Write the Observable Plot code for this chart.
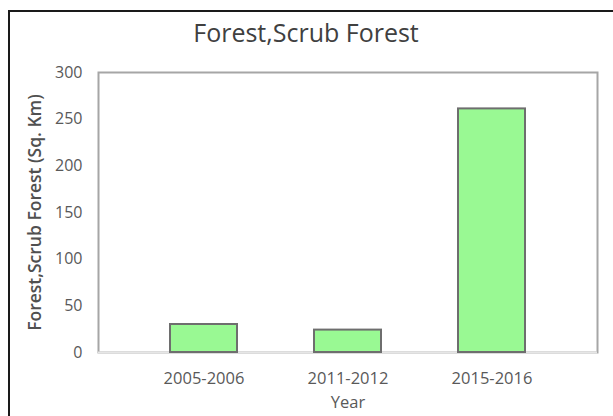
<!DOCTYPE html>
<html>
<head>
<meta charset="utf-8">
<script src="https://cdn.jsdelivr.net/npm/d3@7"></script>
<script src="https://cdn.jsdelivr.net/npm/@observablehq/plot@0.6"></script>
<style>
  html, body { margin: 0; padding: 0; background: #fff; }
  #wrap { position: relative; width: 613px; height: 416px; overflow: hidden; }
  #border { position: absolute; left: 8px; top: 10px; width: 700px; height: 500px;
            border-top: 2px solid #1a1a1a; border-left: 2px solid #1a1a1a; pointer-events: none; }
  #chart { position: absolute; left: 0; top: 0; }
</style>
</head>
<body>
<div id="wrap"><div id="chart"></div><div id="border"></div></div>
<script>
const years = ["2005-2006", "2011-2012", "2015-2016"];
const areas = [30, 24, 261];
const yTicks = [0, 50, 100, 150, 200, 250, 300];
const titleText = "Forest,Scrub Forest";
const yLabel = "Forest,Scrub Forest (Sq. Km)";
const xLabel = "Year";

const data = years.map((y, i) => ({year: y, value: areas[i]}));
const font = "'Open Sans', sans-serif";

const chart = Plot.plot({
  width: 613,
  height: 416,
  marginLeft: 98,
  marginRight: 16,
  marginTop: 72,
  marginBottom: 64,
  style: {fontFamily: font, background: "#fff", overflow: "visible"},
  x: {domain: years, paddingInner: 0.538, paddingOuter: 0.49, label: null, axis: null},
  y: {domain: [0, 300], ticks: yTicks, label: null, axis: null},
  marks: [
    Plot.frame({stroke: "#a6a6a6", strokeWidth: 2}),
    Plot.ruleY([0], {stroke: "#e6e6e6", strokeWidth: 2}),
    Plot.barY(data, {x: "year", y: "value", fill: "#99f993", stroke: "#6e6e6e", strokeWidth: 2}),
    Plot.axisY({ticks: yTicks, tickSize: 0, tickPadding: 16, label: null,
      fontSize: 16, fill: "#595959", fontFamily: font}),
    Plot.axisX({tickSize: 0, tickPadding: 20, label: null,
      fontSize: 16.5, fill: "#595959", fontFamily: font}),
    Plot.text([titleText], {frameAnchor: "top", dx: -42, dy: -48, text: d => d,
      fontSize: 25, fill: "#404040", fontFamily: font}),
    Plot.text([yLabel], {frameAnchor: "left", dx: -63, rotate: -90, textAnchor: "middle", text: d => d,
      fontSize: 17.5, fontWeight: 600, fill: "#505050", fontFamily: font}),
    Plot.text([xLabel], {frameAnchor: "bottom", dy: 55, text: d => d,
      fontSize: 16.5, fill: "#595959", fontFamily: font})
  ]
});
document.getElementById("chart").appendChild(chart);
</script>
</body>
</html>
